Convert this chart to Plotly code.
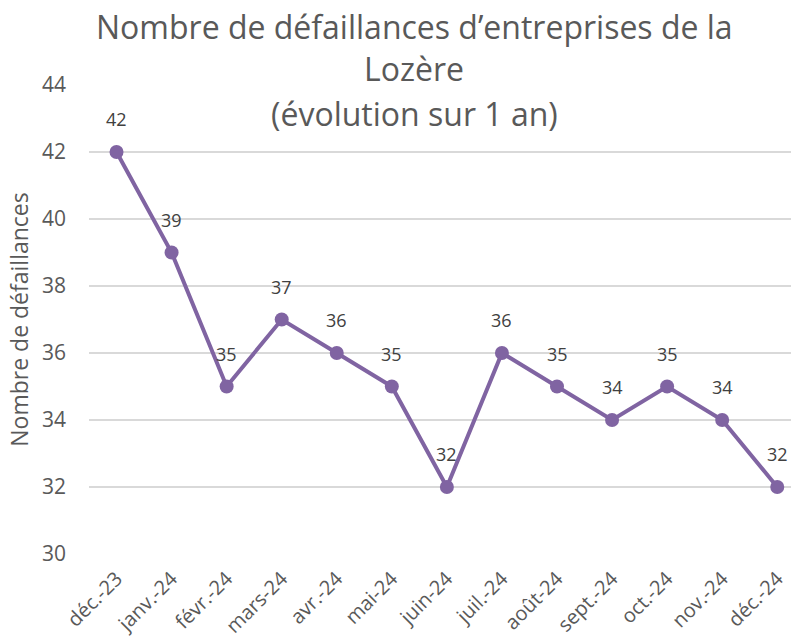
import plotly.graph_objects as go

# Monthly business failures in Lozère
months = ["déc.-23", "janv.-24", "févr.-24", "mars-24", "avr.-24", "mai-24", "juin-24",
          "juil.-24", "août-24", "sept.-24", "oct.-24", "nov.-24", "déc.-24"]
failures = [42, 39, 35, 37, 36, 35, 32, 36, 35, 34, 35, 34, 32]
title_lines = ["Nombre de défaillances d’entreprises de la", "Lozère", "(évolution sur 1 an)"]

line_color = "#8064A2"
font_family = "'Open Sans', sans-serif"
text_grey = "#595959"

fig = go.Figure()
fig.add_trace(go.Scatter(
    x=list(range(len(months))),
    y=failures,
    mode="lines+markers",
    line=dict(color=line_color, width=4),
    marker=dict(color=line_color, size=14),
    hoverinfo="skip",
    showlegend=False,
))

# Value labels above each point
for i, v in enumerate(failures):
    fig.add_annotation(x=i, y=v, text=str(v), showarrow=False, yshift=33,
                       font=dict(family=font_family, size=18, color="#404040"))

# Three-line chart title
for line, ypos in zip(title_lines, [1.124, 1.035, 0.939]):
    fig.add_annotation(text=line, xref="paper", yref="paper", x=0.463, y=ypos,
                       xanchor="center", yanchor="middle", showarrow=False,
                       font=dict(family=font_family, size=32, color=text_grey))

fig.update_layout(
    width=791, height=641,
    margin=dict(l=89, r=0, t=85, b=87),
    paper_bgcolor="white", plot_bgcolor="white",
    font=dict(family=font_family, color=text_grey),
    xaxis=dict(
        tickmode="array", tickvals=list(range(len(months))), ticktext=months,
        range=[-0.5, 12.25], tickangle=-45, showgrid=False, zeroline=False,
        showline=False, ticks="", ticklabelstandoff=8, automargin=False,
        tickfont=dict(size=20, color=text_grey),
    ),
    yaxis=dict(
        range=[30, 44], dtick=2, tick0=30, showgrid=True, gridcolor="#D9D9D9",
        gridwidth=1.5, zeroline=False, showline=False, ticks="",
        ticklabelstandoff=22, automargin=False,
        tickfont=dict(size=21, color=text_grey),
        title=dict(text="Nombre de défaillances", standoff=6,
                   font=dict(size=23, color=text_grey)),
    ),
)

fig.write_html("out.html")
